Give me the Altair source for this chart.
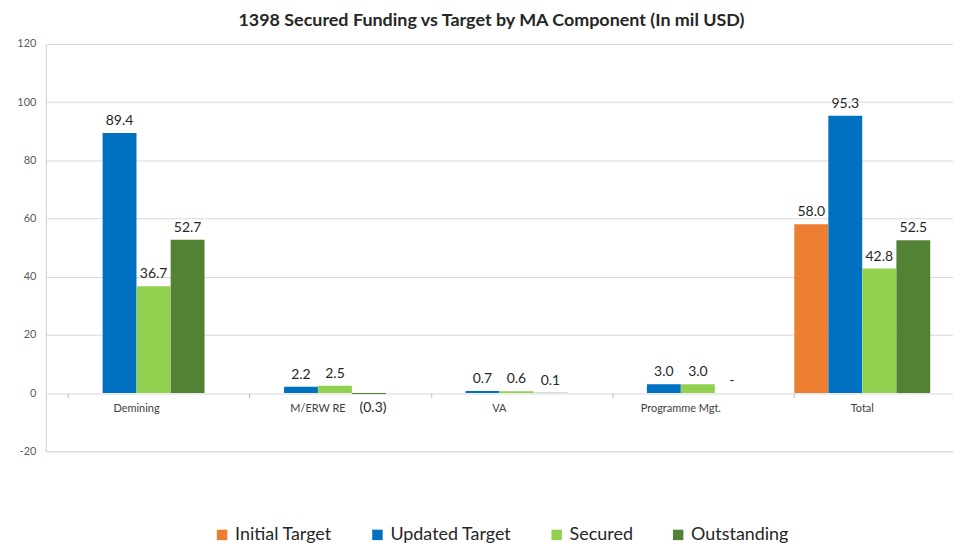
import altair as alt
import pandas as pd

categories = ["Demining", "M/ERW RE", "VA", "Programme Mgt.", "Total"]
series = ["Initial Target", "Updated Target", "Secured", "Outstanding"]
colors = ["#ED7D31", "#0070C0", "#92D050", "#548235"]

initial_target = [None, None, None, None, 58.0]
updated_target = [89.4, 2.2, 0.7, 3.0, 95.3]
secured = [36.7, 2.5, 0.6, 3.0, 42.8]
outstanding = [52.7, -0.3, 0.1, 0.0, 52.5]


def fmt(v):
    if v == 0:
        return "-"
    if v < 0:
        return f"({abs(v):.1f})"
    return f"{v:.1f}"


rows = []
for s, vals in zip(series, [initial_target, updated_target, secured, outstanding]):
    for c, v in zip(categories, vals):
        if v is None:
            continue
        rows.append({"category": c, "series": s, "value": v, "label": fmt(v)})
df = pd.DataFrame(rows)

W, H = 911, 409
FONT = "Lato"

x = alt.X(
    "category:N",
    sort=categories,
    scale=alt.Scale(paddingInner=0.25, paddingOuter=0.125),
    axis=alt.Axis(
        title=None,
        domain=False,
        ticks=True,
        tickColor="#BFBFBF",
        tickSize=5,
        bandPosition=0,
        labelAngle=0,
        labelFont=FONT,
        labelFontSize=11,
        labelColor="#404040",
        labelPadding=4,
        offset=-H * 20 / 140,
    ),
)
y = alt.Y(
    "value:Q",
    scale=alt.Scale(domain=[-20, 120], nice=False),
    axis=alt.Axis(
        title=None,
        values=list(range(-20, 121, 20)),
        labelExpr="datum.value < 0 ? '-' + abs(datum.value) : '' + datum.value",
        grid=True,
        gridColor="#D9D9D9",
        domain=True,
        domainColor="#D9D9D9",
        ticks=False,
        labelFont=FONT,
        labelFontSize=11,
        labelColor="#595959",
        labelPadding=10,
    ),
)
xo = alt.XOffset("series:N", sort=series, scale=alt.Scale(domain=series))

base = alt.Chart(df)

bars = base.mark_bar(size=34).encode(
    x=x,
    xOffset=xo,
    y=y,
    color=alt.Color(
        "series:N",
        sort=series,
        scale=alt.Scale(domain=series, range=colors),
        legend=alt.Legend(
            title=None,
            orient="none",
            legendX=168,
            legendY=484,
            direction="horizontal",
            symbolType="square",
            symbolSize=110,
            symbolStrokeWidth=0,
            labelFont=FONT,
            labelFontSize=18,
            labelColor="#262626",
            columnPadding=36,
        ),
    ),
)

pos_labels = base.transform_filter("datum.value >= 0").mark_text(
    baseline="bottom", dy=-5, font=FONT, fontSize=14, color="#262626"
).encode(x=x, xOffset=xo, y=alt.Y("value:Q"), text="label:N")

neg_labels = base.transform_filter("datum.value < 0").mark_text(
    baseline="top", dy=7, dx=4, font=FONT, fontSize=14, color="#262626"
).encode(x=x, xOffset=xo, y=alt.Y("value:Q"), text="label:N")

chart = (
    alt.layer(bars, pos_labels, neg_labels)
    .properties(
        width=W,
        height=H,
        title=alt.Title(
            "1398 Secured Funding vs Target by MA Component (In mil USD)",
            font=FONT,
            fontSize=18,
            fontWeight="bold",
            color="#262626",
            offset=8,
            dx=-8,
        ),
        padding={"left": 8, "top": 3, "right": 0, "bottom": 0},
    )
    .configure_view(stroke=None)
    .configure(background="white")
)

chart.save("out.html", embed_options={"renderer": "svg", "actions": False})
